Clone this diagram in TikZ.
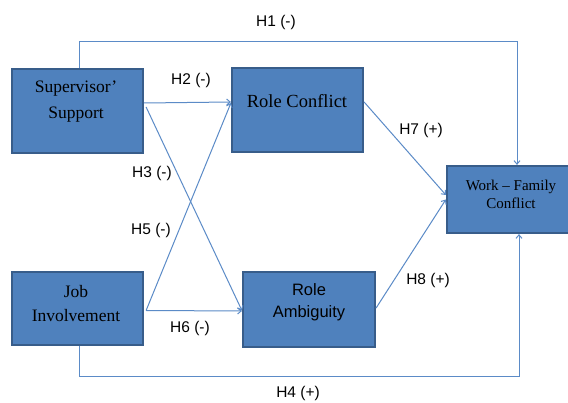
\documentclass[tikz,border=0pt]{standalone}
\usepackage{fontspec}
\setmainfont{Liberation Serif}
\newfontfamily\labfont{Liberation Sans}
\usetikzlibrary{arrows.meta}
\definecolor{boxfill}{HTML}{4F81BD}
\definecolor{boxline}{HTML}{385D8A}
\definecolor{conncol}{HTML}{5B8BC7}
\tikzset{
  box/.style={draw=boxline, fill=boxfill, line width=2.2pt, inner sep=0pt},
  serifbig/.style={align=center, font=\fontsize{17.5}{26}\selectfont},
  conn/.style={draw=conncol, line width=1pt, -{Straight Barb[length=3.5pt,width=6pt]}},
  hlab/.style={font=\labfont\fontsize{15.5}{18}\selectfont}
}
\begin{document}
\begin{tikzpicture}[x=1pt,y=-1pt]
\useasboundingbox (0,0) rectangle (568,403);
\fill[white] (0,0) rectangle (568,403);
% boxes
\node[box, minimum width=131pt, minimum height=84pt] (ss) at (77.5,111) {};
\node[box, minimum width=131pt, minimum height=84pt] (rc) at (297.5,110) {};
\node[box, minimum width=131pt, minimum height=73pt] (ji) at (77.5,308.5) {};
\node[box, minimum width=132pt, minimum height=75pt] (ra) at (309,309.5) {};
\node[box, minimum width=126pt, minimum height=67pt] (wf) at (510,199.5) {};
% box texts
\node[serifbig] (sst) at (76,102) {Supervisor’\\Support};
\node[align=center, font=\fontsize{18.5}{26}\selectfont] (rct) at (297,101) {Role Conflict};
\node[align=center, font=\fontsize{17.5}{24}\selectfont] (jit) at (76,304) {Job\\Involvement};
\node[align=center, font=\labfont\fontsize{16.5}{22}\selectfont] (rat) at (309,302) {Role\\Ambiguity};
\node[align=center, font=\fontsize{15}{18}\selectfont] (wft) at (511,194) {Work – Family\\Conflict};
% corner coordinates
\coordinate (h1a) at (79,42);
\coordinate (h1b) at (517,42);
\coordinate (h4a) at (79,377);
\coordinate (h4b) at (519,377);
% connectors
\draw[conn] (ss.north -| h1a) -- (h1a) -- (h1b) -- (wf.north -| h1b);
\draw[conn] (ji.south -| h4a) -- (h4a) -- (h4b) -- (wf.south -| h4b);
\draw[conn] ([yshift=8pt]ss.east) -- ([yshift=8pt]rc.west);
\draw[conn] ([xshift=2pt,yshift=4pt]ss.east) -- ([yshift=-1pt]ra.west);
\draw[conn] ([xshift=2pt,yshift=-2pt]ji.east) -- ([yshift=7pt]rc.west);
\draw[conn] ([xshift=2pt,yshift=-2pt]ji.east) -- ([yshift=-1.5pt]ra.west);
\draw[conn] ([yshift=8pt]rc.east) -- ([yshift=4.5pt]wf.west);
\draw[conn] ([yshift=1.5pt]ra.east) -- ([yshift=0pt]wf.west);
% labels
\node[hlab] (l1) at (276,22) {H1 (-)};
\node[hlab] (l2) at (191,80) {H2 (-)};
\node[hlab] (l3) at (152,173) {H3 (-)};
\node[hlab] (l5) at (151,230) {H5 (-)};
\node[hlab] (l6) at (190,328) {H6 (-)};
\node[hlab] (l7) at (421,130) {H7 (+)};
\node[hlab] (l8) at (428,280) {H8 (+)};
\node[hlab] (l4) at (298,393) {H4 (+)};
\end{tikzpicture}
\end{document}
